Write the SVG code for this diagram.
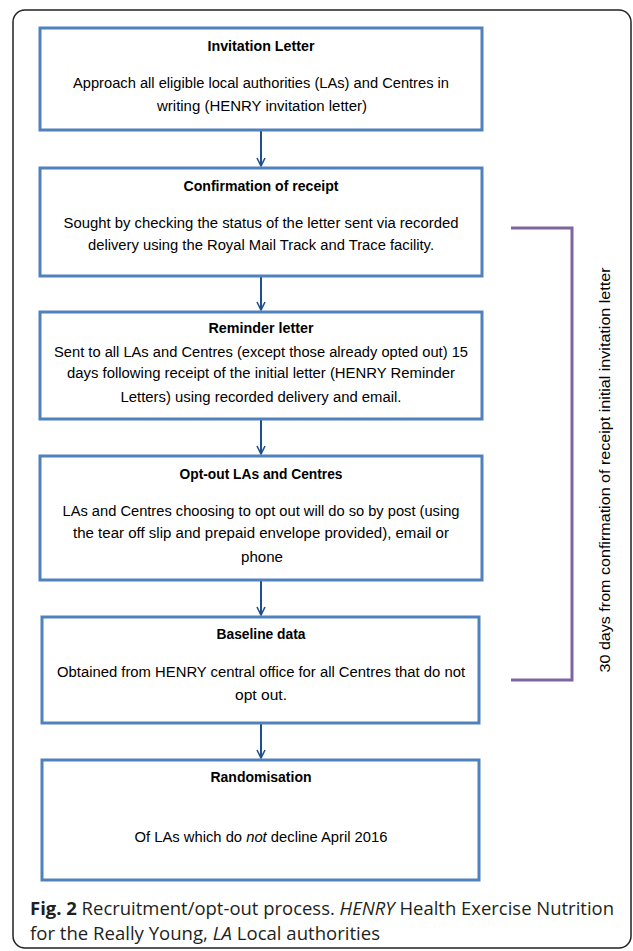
<svg xmlns="http://www.w3.org/2000/svg" width="633" height="951" viewBox="0 0 633 951">
<style>
.box{fill:#fff;stroke:#4F81BD;stroke-width:3}
.t{font-family:"Liberation Sans",Arial,sans-serif;font-size:14px;font-weight:bold;fill:#000;text-anchor:middle}
.b{font-family:"Liberation Sans",Arial,sans-serif;font-size:14px;fill:#000;text-anchor:middle}
.arr{stroke:#1F4E8C;stroke-width:2;fill:none;marker-end:url(#ah)}
.cap{font-family:"Open Sans","Liberation Sans",sans-serif;font-size:18px;fill:#231f20}
</style>
<defs>
<marker id="ah" viewBox="0 0 10 10" refX="9" refY="5" markerWidth="5" markerHeight="5" orient="auto" markerUnits="strokeWidth">
<path d="M1,1 L9,5 L1,9" fill="none" stroke="#1F4E8C" stroke-width="1.6"/>
</marker>
</defs>
<rect x="13" y="10" width="618" height="938" rx="12" fill="#fff" stroke="#222" stroke-width="1.5"/>
<g id="connectors">
<line class="arr" x1="261" y1="131" x2="261" y2="166"/>
<line class="arr" x1="261" y1="277" x2="261" y2="310"/>
<line class="arr" x1="261" y1="420" x2="261" y2="454"/>
<line class="arr" x1="261" y1="581" x2="261" y2="615"/>
<line class="arr" x1="261" y1="724" x2="261" y2="758"/>
<polyline points="511,228 572,228 572,680 511,680" fill="none" stroke="#8064A2" stroke-width="3"/>
</g>
<g id="n1">
<rect class="box" x="40" y="28" width="442" height="102"/>
<text class="t" x="261" y="51" textLength="107" lengthAdjust="spacingAndGlyphs">Invitation Letter</text>
<text class="b" x="261" y="88" textLength="376" lengthAdjust="spacingAndGlyphs">Approach all eligible local authorities (LAs) and Centres in</text>
<text class="b" x="262" y="111" textLength="210" lengthAdjust="spacingAndGlyphs">writing (HENRY invitation letter)</text>
</g>
<g id="n2">
<rect class="box" x="40" y="168" width="442" height="108"/>
<text class="t" x="261" y="191" textLength="155" lengthAdjust="spacingAndGlyphs">Confirmation of receipt</text>
<text class="b" x="261" y="228" textLength="395" lengthAdjust="spacingAndGlyphs">Sought by checking the status of the letter sent via recorded</text>
<text class="b" x="261" y="250" textLength="346" lengthAdjust="spacingAndGlyphs">delivery using the Royal Mail Track and Trace facility.</text>
</g>
<g id="n3">
<rect class="box" x="40" y="312" width="442" height="107"/>
<text class="t" x="261" y="333" textLength="105" lengthAdjust="spacingAndGlyphs">Reminder letter</text>
<text class="b" x="261" y="357" textLength="414" lengthAdjust="spacingAndGlyphs">Sent to all LAs and Centres (except those already opted out) 15</text>
<text class="b" x="261" y="378" textLength="388" lengthAdjust="spacingAndGlyphs">days following receipt of the initial letter (HENRY Reminder</text>
<text class="b" x="261" y="402" textLength="281" lengthAdjust="spacingAndGlyphs">Letters) using recorded delivery and email.</text>
</g>
<g id="n4">
<rect class="box" x="40" y="456" width="442" height="124"/>
<text class="t" x="261" y="479" textLength="163" lengthAdjust="spacingAndGlyphs">Opt-out LAs and Centres</text>
<text class="b" x="261" y="516" textLength="397" lengthAdjust="spacingAndGlyphs">LAs and Centres choosing to opt out will do so by post (using</text>
<text class="b" x="261" y="538" textLength="376" lengthAdjust="spacingAndGlyphs">the tear off slip and prepaid envelope provided), email or</text>
<text class="b" x="262" y="562" textLength="42" lengthAdjust="spacingAndGlyphs">phone</text>
</g>
<g id="n5">
<rect class="box" x="42" y="617" width="437" height="106"/>
<text class="t" x="261" y="639" textLength="89" lengthAdjust="spacingAndGlyphs">Baseline data</text>
<text class="b" x="261" y="677" textLength="408" lengthAdjust="spacingAndGlyphs">Obtained from HENRY central office for all Centres that do not</text>
<text class="b" x="261" y="700" textLength="52" lengthAdjust="spacingAndGlyphs">opt out.</text>
</g>
<g id="n6">
<rect class="box" x="42" y="760" width="437" height="120"/>
<text class="t" x="261" y="782" textLength="101" lengthAdjust="spacingAndGlyphs">Randomisation</text>
<text class="b" x="261" y="842" textLength="253" lengthAdjust="spacingAndGlyphs">Of LAs which do <tspan font-style="italic">not</tspan> decline April 2016</text>
</g>
<g id="bracket-label">
<text transform="translate(610,470) rotate(-90)" font-family="'Liberation Sans',Arial,sans-serif" font-size="14.5" text-anchor="middle" fill="#000" textLength="405" lengthAdjust="spacingAndGlyphs">30 days from confirmation of receipt initial invitation letter</text>
</g>
<g id="caption">
<text class="cap" x="30" y="915" textLength="584" lengthAdjust="spacingAndGlyphs"><tspan font-weight="bold">Fig. 2</tspan> Recruitment/opt-out process. <tspan font-style="italic">HENRY</tspan> Health Exercise Nutrition</text>
<text class="cap" x="30" y="940" textLength="350" lengthAdjust="spacingAndGlyphs">for the Really Young, <tspan font-style="italic">LA</tspan> Local authorities</text>
</g>
</svg>
